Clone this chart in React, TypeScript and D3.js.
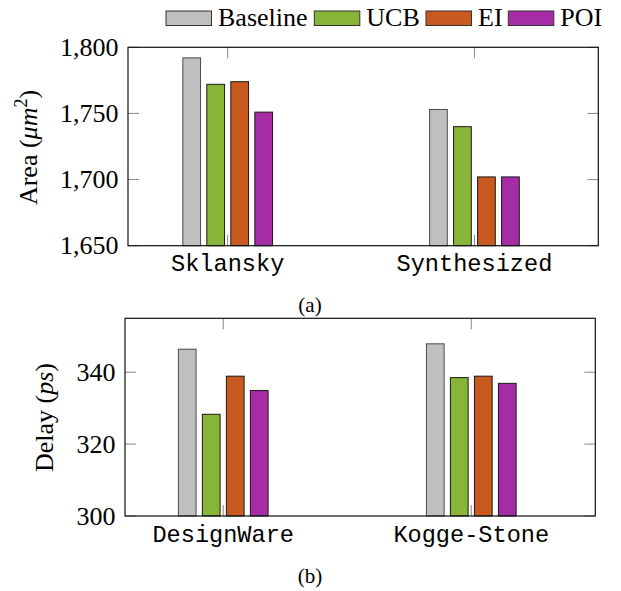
import * as d3 from 'd3';
import { useRef, useEffect } from 'react';

const series = ['Baseline', 'UCB', 'EI', 'POI'];
const seriesColors = ['#bfbfbf', '#88b537', '#c8591f', '#a62ca6'];

// (a) area
const areaCategories = ['Sklansky', 'Synthesized'];
const areaBaseline = [1792, 1753];
const areaUCB = [1772, 1740];
const areaEI = [1774, 1702];
const areaPOI = [1751, 1702];
const areaTicks = [1650, 1700, 1750, 1800];

// (b) delay
const delayCategories = ['DesignWare', 'Kogge-Stone'];
const delayBaseline = [346.4, 347.9];
const delayUCB = [328.3, 338.5];
const delayEI = [338.9, 338.9];
const delayPOI = [334.9, 336.9];
const delayTicks = [300, 320, 340];

const SERIF = '"Liberation Serif", "Times New Roman", serif';
const MONO = '"Liberation Mono", "Courier New", monospace';

type Panel = {
  categories: string[];
  values: number[][];
  ticks: number[];
  yDomain: [number, number];
  xDomain: [number, number];
  left: number; right: number; top: number; bottom: number;
  tickLabelX: number;
  yLabel: { x: number; y: number; parts: { t: string; italic?: boolean; sup?: boolean }[] };
  catLabelY: number;
  caption: string;
  captionY: number;
};

function drawPanel(svg: d3.Selection<SVGSVGElement, unknown, null, undefined>, p: Panel) {
  const g = svg.append('g');
  const x = d3.scaleLinear().domain(p.xDomain).range([p.left, p.right]);
  const y = d3.scaleLinear().domain(p.yDomain).range([p.bottom, p.top]);
  const shift = d3.scaleBand<string>().domain(series).range([-48, 48]).paddingInner(0.22).paddingOuter(0.11);
  const tickLen = 11;

  // frame background
  g.append('rect')
    .attr('x', p.left).attr('y', p.top)
    .attr('width', p.right - p.left).attr('height', p.bottom - p.top)
    .attr('fill', 'white');

  // y ticks (left + right)
  p.ticks.forEach(t => {
    g.append('line').attr('x1', p.left).attr('x2', p.left + tickLen)
      .attr('y1', y(t)).attr('y2', y(t)).attr('stroke', '#888').attr('stroke-width', 1);
    g.append('line').attr('x1', p.right).attr('x2', p.right - tickLen)
      .attr('y1', y(t)).attr('y2', y(t)).attr('stroke', '#888').attr('stroke-width', 1);
    g.append('text')
      .attr('x', p.tickLabelX).attr('y', y(t) + 8.5)
      .attr('text-anchor', 'end')
      .style('font-family', SERIF).style('font-size', '26px')
      .text(d3.format(',')(t));
  });

  // x ticks (top + bottom)
  p.categories.forEach((c, i) => {
    g.append('line').attr('x1', x(i)).attr('x2', x(i))
      .attr('y1', p.top).attr('y2', p.top + tickLen).attr('stroke', '#888');
    g.append('line').attr('x1', x(i)).attr('x2', x(i))
      .attr('y1', p.bottom).attr('y2', p.bottom - tickLen).attr('stroke', '#888');
    g.append('text')
      .attr('x', x(i)).attr('y', p.catLabelY)
      .attr('text-anchor', 'middle')
      .style('font-family', MONO).style('font-size', '23.6px')
      .text(c);
  });

  // bars
  series.forEach((s, si) => {
    g.selectAll(`.bar-${si}`)
      .data(p.values[si])
      .join('rect')
      .attr('x', (d, i) => x(i) + (shift(s) as number) + 0.5)
      .attr('y', d => y(d))
      .attr('width', shift.bandwidth() - 1)
      .attr('height', d => p.bottom - y(d))
      .attr('fill', seriesColors[si])
      .attr('stroke', si === 0 ? '#4a4a4a' : '#1a1a1a')
      .attr('stroke-width', 1);
  });

  // frame
  g.append('rect')
    .attr('x', p.left).attr('y', p.top)
    .attr('width', p.right - p.left).attr('height', p.bottom - p.top)
    .attr('fill', 'none').attr('stroke', '#111').attr('stroke-width', 1.2);

  // y label
  const lab = g.append('text')
    .attr('transform', `translate(${p.yLabel.x},${p.yLabel.y}) rotate(-90)`)
    .attr('text-anchor', 'middle')
    .style('font-family', SERIF).style('font-size', '26px');
  p.yLabel.parts.forEach(part => {
    const ts = lab.append('tspan').text(part.t);
    if (part.italic) ts.style('font-style', 'italic');
    if (part.sup) ts.attr('dy', -10).style('font-size', '18px');
  });
  // reset baseline after superscript handled by following tspan
  lab.selectAll('tspan').each(function (_, i, nodes) {
    const prev = i > 0 ? p.yLabel.parts[i - 1] : null;
    if (prev && prev.sup) d3.select(this).attr('dy', 10);
  });

  // caption
  g.append('text')
    .attr('x', 310).attr('y', p.captionY)
    .attr('text-anchor', 'middle')
    .style('font-family', SERIF).style('font-size', '21px')
    .text(p.caption);
}

export default function App() {
  const svgRef = useRef<SVGSVGElement>(null);

  useEffect(() => {
    const svg = d3.select(svgRef.current as SVGSVGElement);
    svg.selectAll('*').remove();

    drawPanel(svg, {
      categories: areaCategories,
      values: [areaBaseline, areaUCB, areaEI, areaPOI],
      ticks: areaTicks,
      yDomain: [1650, 1800],
      xDomain: [-0.404, 1.502],
      left: 128, right: 598.3, top: 47.3, bottom: 245.7,
      tickLabelX: 118.5,
      yLabel: { x: 36.5, y: 147.5, parts: [{ t: 'Area (' }, { t: 'μm', italic: true }, { t: '2', sup: true }, { t: ')' }] },
      catLabelY: 271,
      caption: '(a)',
      captionY: 311.5,
    });

    drawPanel(svg, {
      categories: delayCategories,
      values: [delayBaseline, delayUCB, delayEI, delayPOI],
      ticks: delayTicks,
      yDomain: [300, 355],
      xDomain: [-0.396, 1.5],
      left: 125, right: 595.3, top: 318.3, bottom: 516,
      tickLabelX: 115.5,
      yLabel: { x: 53, y: 417.5, parts: [{ t: 'Delay (' }, { t: 'ps', italic: true }, { t: ')' }] },
      catLabelY: 541.7,
      caption: '(b)',
      captionY: 583.3,
    });

    // legend
    const legendX = [166, 314.3, 426, 508.3];
    const leg = svg.append('g');
    series.forEach((s, i) => {
      leg.append('rect')
        .attr('x', legendX[i]).attr('y', 11)
        .attr('width', 45.5).attr('height', 14.5)
        .attr('fill', seriesColors[i])
        .attr('stroke', '#333').attr('stroke-width', 1);
      leg.append('text')
        .attr('x', legendX[i] + 52).attr('y', 25.5)
        .style('font-family', SERIF).style('font-size', '26px')
        .text(s);
    });
  }, []);

  return (
    <svg
      ref={svgRef}
      width={621}
      height={591}
      style={{ position: 'absolute', left: 0, top: 0, background: 'white' }}
    ></svg>
  );
}
